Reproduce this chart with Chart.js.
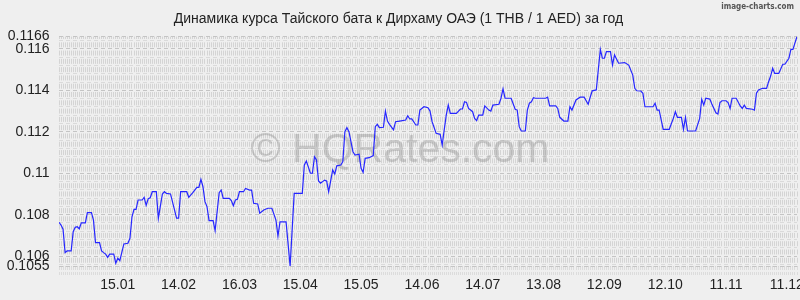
<!DOCTYPE html>
<html lang="ru">
<head>
<meta charset="UTF-8">
<title>THB / AED</title>
<script src="https://cdn.jsdelivr.net/npm/chart.js"></script>
<style>
  html, body { margin: 0; padding: 0; background: #efefef; }
  canvas { display: block; }
</style>
</head>
<body>
<canvas id="chart" width="800" height="300"></canvas>
<script>
// day index (0 = first day of the year window) and THB/AED rate
const days = [
  0, 1, 2, 3, 4, 6, 7, 8, 9, 10, 11, 13,
  14, 16, 17, 18, 20, 21, 22, 23, 24, 25, 27, 28,
  29, 30, 32, 34, 35, 36, 37, 38, 39, 41, 42, 43,
  44, 45, 46, 48, 49, 51, 52, 53, 55, 58, 59, 60,
  63, 64, 66, 68, 69, 70, 71, 72, 73, 74, 76, 77,
  79, 80, 81, 84, 85, 86, 87, 88, 89, 91, 92, 94,
  95, 96, 98, 99, 101, 103, 105, 107, 108, 109, 112, 114,
  116, 120, 121, 122, 124, 125, 126, 127, 128, 129, 131, 132,
  133, 135, 136, 137, 139, 140, 141, 142, 143, 145, 146, 148,
  149, 150, 151, 153, 155, 156, 157, 158, 160, 161, 162, 163,
  165, 166, 168, 171, 172, 173, 174, 176, 177, 178, 180, 182,
  183, 184, 186, 188, 189, 190, 191, 192, 193, 196, 198, 199,
  200, 201, 202, 203, 204, 205, 206, 207, 209, 210, 212, 213,
  214, 217, 218, 219, 220, 223, 225, 226, 227, 228, 230, 231,
  232, 233, 234, 235, 240, 241, 242, 245, 246, 247, 249, 251,
  252, 253, 255, 257, 259, 261, 262, 263, 265, 267, 268, 269,
  270, 272, 273, 274, 276, 279, 281, 283, 284, 285, 287, 288,
  289, 293, 294, 295, 296, 298, 301, 303, 304, 305, 307, 308,
  309, 310, 314, 316, 317, 318, 319, 321, 322, 324, 325, 326,
  327, 329, 330, 331, 332, 334, 336, 337, 338, 339, 342, 343,
  344, 345, 347, 349, 350, 351, 352, 353, 355, 357, 358, 360,
  361, 362, 364
];
const rates = [
  0.10763, 0.10750, 0.10730, 0.10617, 0.10625, 0.10625, 0.10718, 0.10739, 0.10742, 0.10732, 0.10761, 0.10761,
  0.10810, 0.10810, 0.10774, 0.10665, 0.10665, 0.10625, 0.10617, 0.10610, 0.10594, 0.10610, 0.10610, 0.10566,
  0.10590, 0.10578, 0.10659, 0.10662, 0.10686, 0.10790, 0.10826, 0.10826, 0.10871, 0.10871, 0.10884, 0.10845,
  0.10877, 0.10882, 0.10911, 0.10911, 0.10783, 0.10900, 0.10911, 0.10903, 0.10900, 0.10783, 0.10783, 0.10911,
  0.10911, 0.10884, 0.10906, 0.10932, 0.10932, 0.10971, 0.10935, 0.10863, 0.10839, 0.10771, 0.10771, 0.10723,
  0.10906, 0.10919, 0.10879, 0.10879, 0.10868, 0.10843, 0.10871, 0.10874, 0.10911, 0.10911, 0.10927, 0.10919,
  0.10919, 0.10855, 0.10852, 0.10807, 0.10823, 0.10831, 0.10831, 0.10774, 0.10697, 0.10765, 0.10765, 0.10552,
  0.10903, 0.10903, 0.11040, 0.11059, 0.11000, 0.11000, 0.11080, 0.11064, 0.10963, 0.10952, 0.10967, 0.10963,
  0.10911, 0.11016, 0.10996, 0.11036, 0.11040, 0.11056, 0.11201, 0.11220, 0.11201, 0.11104, 0.11088, 0.11092,
  0.11024, 0.11005, 0.11072, 0.11075, 0.11085, 0.11225, 0.11236, 0.11220, 0.11222, 0.11300, 0.11252, 0.11236,
  0.11209, 0.11249, 0.11252, 0.11257, 0.11278, 0.11262, 0.11262, 0.11233, 0.11233, 0.11305, 0.11321, 0.11316,
  0.11300, 0.11249, 0.11193, 0.11188, 0.11136, 0.11209, 0.11281, 0.11329, 0.11289, 0.11289, 0.11310, 0.11310,
  0.11345, 0.11342, 0.11313, 0.11305, 0.11297, 0.11265, 0.11254, 0.11281, 0.11281, 0.11325, 0.11305, 0.11300,
  0.11329, 0.11333, 0.11362, 0.11407, 0.11362, 0.11362, 0.11309, 0.11305, 0.11225, 0.11204, 0.11204, 0.11305,
  0.11338, 0.11345, 0.11365, 0.11362, 0.11362, 0.11367, 0.11325, 0.11325, 0.11313, 0.11270, 0.11252, 0.11252,
  0.11321, 0.11305, 0.11354, 0.11367, 0.11367, 0.11333, 0.11367, 0.11398, 0.11402, 0.11598, 0.11555, 0.11555,
  0.11587, 0.11587, 0.11522, 0.11571, 0.11531, 0.11534, 0.11522, 0.11474, 0.11410, 0.11398, 0.11397, 0.11386,
  0.11321, 0.11321, 0.11338, 0.11305, 0.11305, 0.11212, 0.11212, 0.11265, 0.11297, 0.11270, 0.11270, 0.11212,
  0.11270, 0.11204, 0.11204, 0.11265, 0.11357, 0.11329, 0.11362, 0.11358, 0.11334, 0.11292, 0.11286, 0.11341,
  0.11350, 0.11350, 0.11341, 0.11313, 0.11362, 0.11362, 0.11325, 0.11313, 0.11329, 0.11313, 0.11309, 0.11305,
  0.11386, 0.11402, 0.11410, 0.11410, 0.11442, 0.11469, 0.11507, 0.11482, 0.11482, 0.11526, 0.11526, 0.11555,
  0.11598, 0.11598, 0.1166
];

// x tick labels (every 30 days)
const xTickDays = [29, 59, 89, 119, 149, 179, 209, 239, 269, 299, 329, 359];
const xTickLabels = ['15.01', '14.02', '16.03', '15.04', '15.05', '14.06', '14.07', '13.08', '12.09', '12.10', '11.11', '11.12'];
const lastDay = 364;

// y tick labels
const yTickValues = [0.1055, 0.106, 0.108, 0.11, 0.112, 0.114, 0.116, 0.1166];
const yTickLabels = ['0.1055', '0.106', '0.108', '0.11', '0.112', '0.114', '0.116', '0.1166'];
const yMin = 0.1055, yMax = 0.1166, yGridStep = 0.0004;

const FONT = "'Liberation Sans', Arial, sans-serif";

// minor horizontal grid values + the labelled ones
const yGrid = [];
for (let v = 0.1056; v < yMax; v += yGridStep) yGrid.push(+v.toFixed(4));
const yAllTicks = Array.from(new Set(yGrid.concat(yTickValues))).sort((a, b) => a - b);

const watermark = {
  id: 'watermark',
  beforeDatasetsDraw(chart) {
    const ctx = chart.ctx;
    ctx.save();
    ctx.font = '41px ' + FONT;
    ctx.fillStyle = 'rgba(140,140,140,0.38)';
    ctx.textAlign = 'center';
    ctx.textBaseline = 'alphabetic';
    ctx.fillText('© HQRates.com', 400, 162);
    ctx.restore();
  },
  afterDraw(chart) {
    const ctx = chart.ctx;
    ctx.save();
    ctx.font = "bold 8px 'DejaVu Sans Condensed', 'DejaVu Sans', sans-serif";
    ctx.fillStyle = '#555';
    ctx.textAlign = 'right';
    ctx.textBaseline = 'middle';
    ctx.fillText('image-charts.com', 794, 7);
    ctx.restore();
  }
};

new Chart(document.getElementById('chart'), {
  type: 'line',
  data: {
    datasets: [{
      data: days.map((d, i) => ({ x: d, y: rates[i] })),
      borderColor: '#2626ff',
      borderWidth: 1.2,
      pointRadius: 0,
      tension: 0,
      fill: false
    }]
  },
  options: {
    responsive: false,
    animation: false,
    events: [],
    layout: { padding: { left: 0, right: 3, top: 0, bottom: 0 } },
    plugins: {
      legend: { display: false },
      tooltip: { enabled: false },
      title: {
        display: true,
        text: 'Динамика курса Тайского бата к Дирхаму ОАЭ (1 THB / 1 AED) за год',
        color: '#222',
        font: { family: FONT, size: 14, weight: 'normal' },
        padding: { top: 11, bottom: 8.7 }
      }
    },
    scales: {
      x: {
        type: 'linear',
        min: 0,
        max: lastDay,
        afterBuildTicks: s => { s.ticks = Array.from({ length: lastDay + 1 }, (_, i) => ({ value: i })); },
        afterFit: s => { s.height = 33.5; },
        ticks: {
          autoSkip: false,
          maxRotation: 0,
          minRotation: 0,
          padding: 0,
          color: '#222',
          font: { family: FONT, size: 14 },
          callback: v => { const k = xTickDays.indexOf(v); return k >= 0 ? xTickLabels[k] : ''; }
        },
        grid: {
          color: '#d4d4d4',
          lineWidth: 1,
          drawTicks: true,
          tickLength: 10,
          tickColor: '#dcdcdc',
          tickBorderDash: [3, 2]
        },
        border: { display: false, dash: [5, 3.288], dashOffset: 2.5 }
      },
      y: {
        min: yMin,
        max: yMax,
        afterBuildTicks: s => { s.ticks = yAllTicks.map(v => ({ value: v })); },
        afterFit: s => { s.width = 59; },
        ticks: {
          autoSkip: false,
          padding: 9.5,
          color: '#222',
          font: { family: FONT, size: 14 },
          callback: v => { const k = yTickValues.findIndex(t => Math.abs(t - v) < 1e-7); return k >= 0 ? yTickLabels[k] : ''; }
        },
        grid: {
          drawTicks: false,
          lineWidth: 1,
          color: c => yTickValues.some(t => Math.abs(t - c.tick.value) < 1e-7) ? '#c4c4c4' : '#dadada'
        },
        border: { display: false, dash: [4, 3] }
      }
    }
  },
  plugins: [watermark]
});
</script>
</body>
</html>
